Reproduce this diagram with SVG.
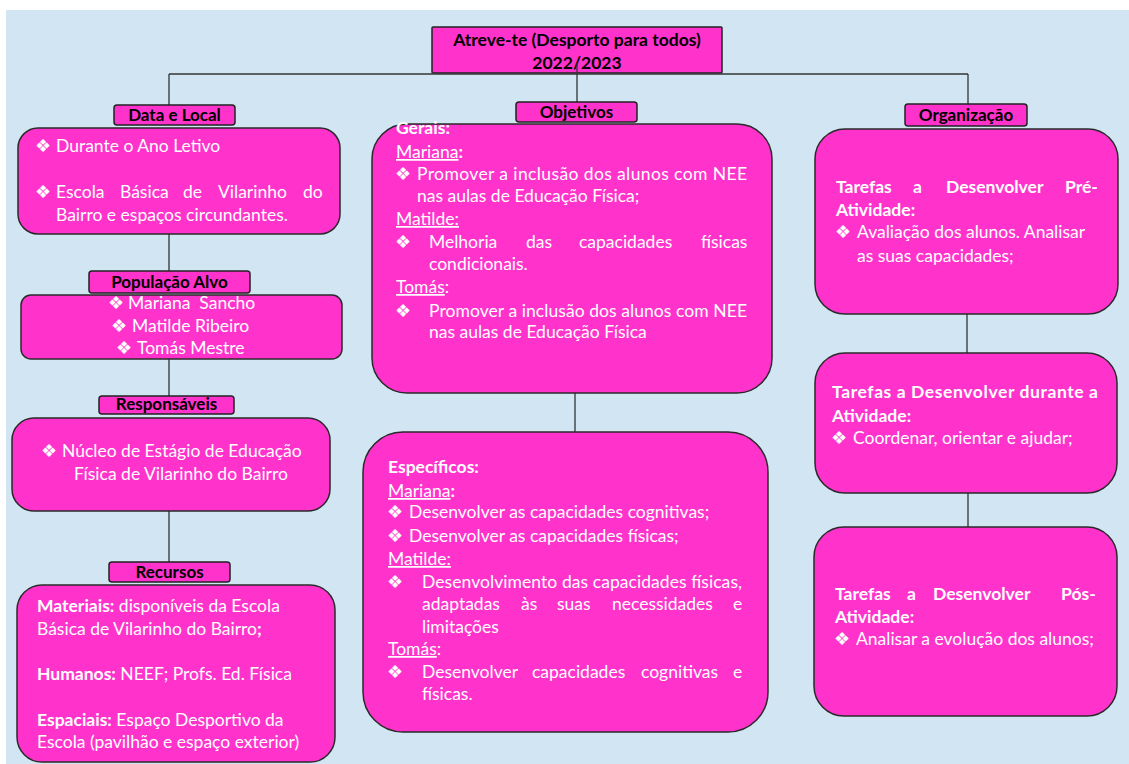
<svg xmlns="http://www.w3.org/2000/svg" width="1129" height="764" viewBox="0 0 1129 764">
  <style>
    .bg { fill: #d1e5f3; }
    .box { fill: #ff33cc; stroke: #2a2a2a; stroke-width: 1.5; }
    .tag { fill: #ff33cc; stroke: #222; stroke-width: 1.5; }
    .conn line { stroke: #333; stroke-width: 1.3; }
    .t { font-family: Lato, "Liberation Sans", sans-serif; font-size: 17.5px; fill: #ffffff; }
    .b { font-weight: bold; }
    .u { text-decoration: underline; }
    .bul { font-family: "DejaVu Sans", sans-serif; font-size: 18px; fill: #ffffff; }
    .lt { font-family: Lato, "Liberation Sans", sans-serif; font-size: 17px; font-weight: bold; fill: #000; text-anchor: middle; }
    .ttl { font-size: 17.5px; }
  </style>

  <rect x="0" y="0" width="1129" height="764" fill="#ffffff"/>
  <rect class="bg" x="6" y="10" width="1123" height="754"/>

  <!-- title -->
  <g id="title">
    <rect class="tag" x="432" y="27" width="290" height="46" rx="1"/>
    <text class="lt ttl" x="577" y="46">Atreve-te (Desporto para todos)</text>
    <text class="lt ttl" x="577" y="69">2022/2023</text>
  </g>

  <!-- connectors -->
  <g id="connectors" class="conn">
    <line x1="169" y1="74" x2="968" y2="74"/>
    <line x1="169" y1="74" x2="169" y2="105"/>
    <line x1="968" y1="74" x2="968" y2="104"/>
    <line x1="577" y1="63" x2="577" y2="102"/>
    <line x1="169" y1="234" x2="169" y2="271"/>
    <line x1="169" y1="359" x2="169" y2="396"/>
    <line x1="169" y1="511" x2="169" y2="562"/>
    <line x1="575" y1="393" x2="575" y2="432"/>
    <line x1="967" y1="314" x2="967" y2="353"/>
    <line x1="968" y1="493" x2="968" y2="527"/>
  </g>

  <!-- Data e Local -->
  <g id="data-local">
    <rect class="box" x="18" y="128" width="322" height="106" rx="20"/>
    <rect class="tag" x="114" y="105" width="121" height="20" rx="3"/>
    <text class="lt" x="174.5" y="121">Data e Local</text>
    <text class="bul" x="35" y="152">❖</text>
    <text class="t" x="56" y="152">Durante o Ano Letivo</text>
    <text class="bul" x="35" y="198">❖</text>
    <text class="t" y="198"><tspan x="56">Escola</tspan><tspan x="120">Básica</tspan><tspan x="183">de</tspan><tspan x="218">Vilarinho</tspan><tspan x="303">do</tspan></text>
    <text class="t" x="56" y="221">Bairro e espaços circundantes.</text>
  </g>

  <!-- População Alvo -->
  <g id="populacao">
    <rect class="box" x="21" y="295" width="321" height="64" rx="10"/>
    <rect class="tag" x="89" y="271" width="161" height="22" rx="3"/>
    <text class="lt" x="169.5" y="288">População Alvo</text>
    <text class="bul" x="108" y="309">❖</text>
    <text class="t" x="128" y="309">Mariana&#160; Sancho</text>
    <text class="bul" x="111" y="332">❖</text>
    <text class="t" x="132" y="332">Matilde Ribeiro</text>
    <text class="bul" x="116" y="354">❖</text>
    <text class="t" x="137" y="354">Tomás Mestre</text>
  </g>

  <!-- Responsáveis -->
  <g id="responsaveis">
    <rect class="box" x="12" y="418" width="318" height="93" rx="22"/>
    <rect class="tag" x="99" y="396" width="135" height="18" rx="3"/>
    <text class="lt" x="166.5" y="410">Responsáveis</text>
    <text class="bul" x="41" y="457">❖</text>
    <text class="t" x="62" y="457">Núcleo de Estágio de Educação</text>
    <text class="t" x="74" y="480">Física de Vilarinho do Bairro</text>
  </g>

  <!-- Recursos -->
  <g id="recursos">
    <rect class="box" x="17" y="585" width="318" height="177" rx="25"/>
    <rect class="tag" x="109" y="562" width="121" height="20" rx="3"/>
    <text class="lt" x="169.5" y="578">Recursos</text>
    <text class="t" x="37" y="612"><tspan class="b">Materiais:</tspan> disponíveis da Escola</text>
    <text class="t" x="37" y="635">Básica de Vilarinho do Bairro<tspan class="b">;</tspan></text>
    <text class="t" x="37" y="680"><tspan class="b">Humanos:</tspan> NEEF; Profs. Ed. Física</text>
    <text class="t" x="37" y="726"><tspan class="b">Espaciais:</tspan> Espaço Desportivo da</text>
    <text class="t" x="37" y="748">Escola (pavilhão e espaço exterior)</text>
  </g>

  <!-- Objetivos gerais -->
  <g id="objetivos-gerais">
    <rect class="box" x="372" y="124" width="400" height="269" rx="35"/>
    <rect class="tag" x="516" y="102" width="121" height="20" rx="3"/>
    <text class="lt" x="576.5" y="118">Objetivos</text>
    <text class="t b" x="396" y="134">Gerais:</text>
    <text class="t" x="396" y="158"><tspan class="u">Mariana</tspan><tspan class="b">:</tspan></text>
    <text class="bul" x="395" y="180">❖</text>
    <text class="t" x="417" y="180" textLength="330" lengthAdjust="spacing">Promover a inclusão dos alunos com NEE</text>
    <text class="t" x="417" y="202">nas aulas de Educação Física;</text>
    <text class="t u" x="396" y="225">Matilde:</text>
    <text class="bul" x="395" y="248">❖</text>
    <text class="t" y="248"><tspan x="429">Melhoria</tspan><tspan x="526">das</tspan><tspan x="579">capacidades</tspan><tspan x="701">físicas</tspan></text>
    <text class="t" x="429" y="270">condicionais.</text>
    <text class="t" x="396" y="293"><tspan class="u">Tomás</tspan>:</text>
    <text class="bul" x="395" y="317">❖</text>
    <text class="t" x="429" y="317" textLength="318" lengthAdjust="spacing">Promover a inclusão dos alunos com NEE</text>
    <text class="t" x="429" y="338">nas aulas de Educação Física</text>
  </g>

  <!-- Objetivos específicos -->
  <g id="objetivos-especificos">
    <rect class="box" x="363" y="432" width="405" height="300" rx="40"/>
    <text class="t b" x="388" y="473">Específicos:</text>
    <text class="t" x="388" y="497"><tspan class="u">Mariana</tspan><tspan class="b">:</tspan></text>
    <text class="bul" x="387" y="518">❖</text>
    <text class="t" x="409" y="518">Desenvolver as capacidades cognitivas;</text>
    <text class="bul" x="387" y="542">❖</text>
    <text class="t" x="409" y="542">Desenvolver as capacidades físicas;</text>
    <text class="t u" x="388" y="565">Matilde:</text>
    <text class="bul" x="387" y="588">❖</text>
    <text class="t" x="422" y="588" textLength="320" lengthAdjust="spacing">Desenvolvimento das capacidades físicas,</text>
    <text class="t" y="610"><tspan x="422">adaptadas</tspan><tspan x="521">às</tspan><tspan x="557">suas</tspan><tspan x="612">necessidades</tspan><tspan x="733">e</tspan></text>
    <text class="t" x="422" y="633">limitações</text>
    <text class="t" x="388" y="655"><tspan class="u">Tomás</tspan>:</text>
    <text class="bul" x="387" y="678">❖</text>
    <text class="t" y="678"><tspan x="422">Desenvolver</tspan><tspan x="532">capacidades</tspan><tspan x="641">cognitivas</tspan><tspan x="733">e</tspan></text>
    <text class="t" x="422" y="700">físicas.</text>
  </g>

  <!-- Organização: pré-atividade -->
  <g id="org-pre">
    <rect class="box" x="815" y="129" width="303" height="185" rx="30"/>
    <rect class="tag" x="905" y="104" width="122" height="22" rx="3"/>
    <text class="lt" x="966" y="121">Organização</text>
    <text class="t b" y="193"><tspan x="836">Tarefas</tspan><tspan x="913">a</tspan><tspan x="946">Desenvolver</tspan><tspan x="1065">Pré-</tspan></text>
    <text class="t b" x="836" y="216">Atividade:</text>
    <text class="bul" x="835" y="238">❖</text>
    <text class="t" x="857" y="238">Avaliação dos alunos. Analisar</text>
    <text class="t" x="857" y="262">as suas capacidades;</text>
  </g>

  <!-- Organização: durante -->
  <g id="org-durante">
    <rect class="box" x="815" y="353" width="302" height="140" rx="30"/>
    <text class="t b" x="832" y="398" textLength="266" lengthAdjust="spacing">Tarefas a Desenvolver durante a</text>
    <text class="t b" x="832" y="422">Atividade:</text>
    <text class="bul" x="831" y="444">❖</text>
    <text class="t" x="853" y="444">Coordenar, orientar e ajudar;</text>
  </g>

  <!-- Organização: pós-atividade -->
  <g id="org-pos">
    <rect class="box" x="814" y="527" width="303" height="189" rx="30"/>
    <text class="t b" y="600"><tspan x="835">Tarefas</tspan><tspan x="907">a</tspan><tspan x="933">Desenvolver</tspan><tspan x="1061">Pós-</tspan></text>
    <text class="t b" x="835" y="623">Atividade:</text>
    <text class="bul" x="834" y="645">❖</text>
    <text class="t" x="856" y="645">Analisar a evolução dos alunos;</text>
  </g>
</svg>
